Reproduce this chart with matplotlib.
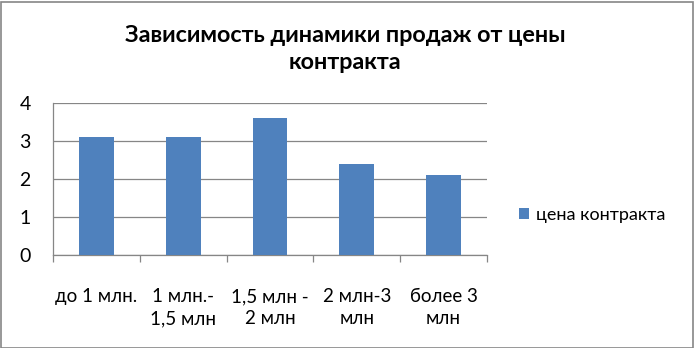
import matplotlib
matplotlib.use("Agg")
import matplotlib.pyplot as plt
from matplotlib.patches import Rectangle
import numpy as np

categories = ["до 1 млн.", "1 млн.-\n1,5 млн", "1,5 млн -\n2 млн", "2 млн-3\nмлн", "более 3\nмлн"]
values = [3.1, 3.1, 3.6, 2.4, 2.1]
series_name = "цена контракта"
title = "Зависимость динамики продаж от цены\nконтракта"
yticks = [0, 1, 2, 3, 4]

plt.rcParams['font.family'] = ['Lato', 'DejaVu Sans']

fig = plt.figure(figsize=(6.94, 3.48), dpi=100)
ax = fig.add_axes([53/694, 1-255/348, (487-53)/694, (255-103)/348])

bar_color = "#4F81BD"
x = np.arange(len(categories))
bars = ax.bar(x, values, width=0.4, color=bar_color, zorder=3, label=series_name)

ax.set_xlim(-0.5, len(categories)-0.5)
ax.set_ylim(0, 4)
ax.set_yticks(yticks)
ax.set_yticklabels([str(t) for t in yticks], fontsize=14)
ax.yaxis.grid(True, color="#868686", linewidth=0.9, zorder=0)
ax.tick_params(axis='y', length=0, pad=16)

ax.set_xticks(x)
ax.set_xticklabels(categories, fontsize=13.5, linespacing=1.35, va='top')
ax.tick_params(axis='x', length=0, pad=24)
# boundary tick marks
ax.set_xticks(np.arange(-0.5, len(categories), 1.0), minor=True)
ax.tick_params(axis='x', which='minor', length=5, direction='out', color="#868686", width=0.9)

for s in ['top', 'right']:
    ax.spines[s].set_visible(False)
for s in ['left', 'bottom']:
    ax.spines[s].set_color("#868686")
    ax.spines[s].set_linewidth(0.9)

fig.text(345/694, 1-49/348, title, ha='center', va='center', fontsize=16.8,
         fontweight='bold', linespacing=1.4)

leg = fig.legend(handles=[bars], labels=[series_name], loc='center left',
                 bbox_to_anchor=(503/694, 1-215/348), frameon=False, fontsize=13,
                 handlelength=0.55, handleheight=0.55, handletextpad=0.4)

fig.patches.append(Rectangle((0.5/694, 0.5/348), 692/694, 346/348, transform=fig.transFigure,
                             fill=False, edgecolor="#868686", linewidth=1.2))

fig.savefig("out.png", dpi=100)
